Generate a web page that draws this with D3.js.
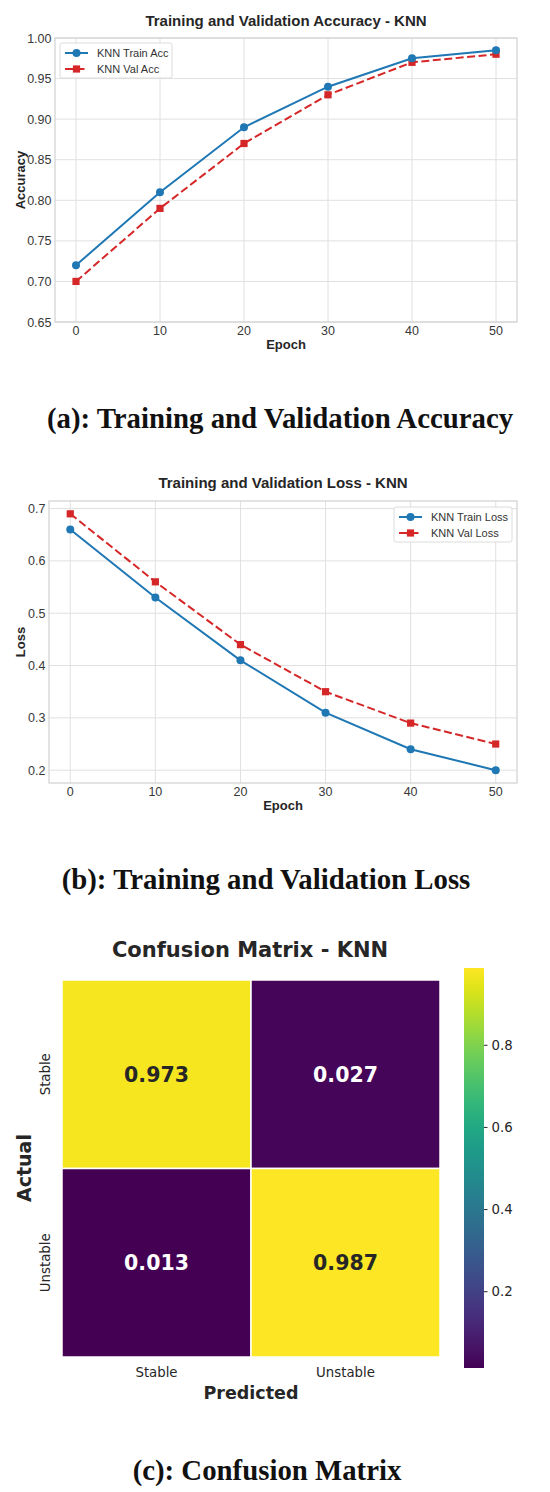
<!DOCTYPE html>
<html>
<head>
<meta charset="utf-8">
<script src="https://cdn.jsdelivr.net/npm/d3@7"></script>
<style>
  body { margin: 0; background: #fff; }
  svg { display: block; }
</style>
</head>
<body>
<svg width="550" height="1492"></svg>
<script>
// values
const epochs = [0, 10, 20, 30, 40, 50];
const accTrain = [0.72, 0.81, 0.89, 0.94, 0.975, 0.985];
const accVal = [0.70, 0.79, 0.87, 0.93, 0.97, 0.98];
const lossTrain = [0.66, 0.53, 0.41, 0.31, 0.24, 0.20];
const lossVal = [0.69, 0.56, 0.44, 0.35, 0.29, 0.25];
const epochTicks = [0, 10, 20, 30, 40, 50];
const accTicks = [0.65, 0.70, 0.75, 0.80, 0.85, 0.90, 0.95, 1.00];
const lossTicks = [0.2, 0.3, 0.4, 0.5, 0.6, 0.7];
const cmClasses = ["Stable", "Unstable"];
const cmValues = [[0.973, 0.027], [0.013, 0.987]];
const cbarTicks = [0.2, 0.4, 0.6, 0.8];

const svg = d3.select("svg");
const blue = "#1f77b4", red = "#d62728";
const sans = "'Liberation Sans', Arial, sans-serif";
const dejavu = "'DejaVu Sans', sans-serif";
const serif = "'Liberation Serif', 'DejaVu Serif', serif";

function lineChart(opt) {
  const g = svg.append("g");
  const {left, right, top, bottom} = opt.box;
  const x = d3.scaleLinear().domain([-2.5, 52.5]).range([left, right]);
  const y = d3.scaleLinear().domain(opt.yDomain).range([bottom, top]);

  // grid
  g.selectAll(".gx").data(epochTicks).enter().append("line")
    .attr("x1", d => x(d)).attr("x2", d => x(d))
    .attr("y1", top).attr("y2", bottom)
    .attr("stroke", "#e0e0e0").attr("stroke-width", 1);
  g.selectAll(".gy").data(opt.yTicks).enter().append("line")
    .attr("x1", left).attr("x2", right)
    .attr("y1", d => y(d)).attr("y2", d => y(d))
    .attr("stroke", "#e0e0e0").attr("stroke-width", 1);
  g.append("rect")
    .attr("x", left).attr("y", top)
    .attr("width", right - left).attr("height", bottom - top)
    .attr("fill", "none").attr("stroke", "#d4d4d4").attr("stroke-width", 1.3);

  // tick labels
  g.selectAll(".tx").data(epochTicks).enter().append("text")
    .attr("x", d => x(d)).attr("y", bottom + 12.5)
    .attr("text-anchor", "middle")
    .style("font-family", sans).style("font-size", "12.5px").attr("fill", "#383838")
    .text(d => d);
  g.selectAll(".ty").data(opt.yTicks).enter().append("text")
    .attr("x", left - 3.5).attr("y", d => y(d) + 4.5)
    .attr("text-anchor", "end")
    .style("font-family", sans).style("font-size", "12.5px").attr("fill", "#383838")
    .text(d => d3.format(opt.yFmt)(d));

  // labels
  g.append("text")
    .attr("x", (left + right) / 2).attr("y", opt.titleY)
    .attr("text-anchor", "middle")
    .style("font-family", sans).style("font-size", "15px").style("font-weight", "bold")
    .attr("fill", "#262626").text(opt.title);
  g.append("text")
    .attr("x", (left + right) / 2).attr("y", bottom + 27)
    .attr("text-anchor", "middle")
    .style("font-family", sans).style("font-size", "13px").style("font-weight", "bold")
    .attr("fill", "#262626").text("Epoch");
  g.append("text")
    .attr("transform", `translate(${opt.yLabelX},${(top + bottom) / 2}) rotate(-90)`)
    .attr("text-anchor", "middle")
    .style("font-family", sans).style("font-size", "13px").style("font-weight", "bold")
    .attr("fill", "#262626").text(opt.yLabel);

  const line = d3.line().x((d, i) => x(epochs[i])).y(d => y(d));

  // val (red, dashed, squares)
  g.append("path").datum(opt.val)
    .attr("fill", "none").attr("stroke", red).attr("stroke-width", 2)
    .attr("stroke-dasharray", "8,3.5").attr("d", line);
  g.selectAll(".sq").data(opt.val).enter().append("rect")
    .attr("x", (d, i) => x(epochs[i]) - 3.6).attr("y", d => y(d) - 3.6)
    .attr("width", 7.2).attr("height", 7.2).attr("fill", red);

  // train (blue, circles)
  g.append("path").datum(opt.train)
    .attr("fill", "none").attr("stroke", blue).attr("stroke-width", 2)
    .attr("d", line);
  g.selectAll(".ci").data(opt.train).enter().append("circle")
    .attr("cx", (d, i) => x(epochs[i])).attr("cy", d => y(d))
    .attr("r", 4).attr("fill", blue);

  // legend
  const L = opt.legend;
  const lg = g.append("g");
  lg.append("rect")
    .attr("x", L.x).attr("y", L.y).attr("width", L.w).attr("height", 35)
    .attr("rx", 2).attr("fill", "#fff").attr("fill-opacity", 0.85)
    .attr("stroke", "#dcdcdc").attr("stroke-width", 1);
  const items = [
    {name: opt.names[0], color: blue, dash: null, marker: "circle"},
    {name: opt.names[1], color: red, dash: "8,3.5", marker: "square"}
  ];
  items.forEach((it, i) => {
    const yy = L.y + 10 + i * 16;
    lg.append("line")
      .attr("x1", L.x + 5).attr("x2", L.x + 28).attr("y1", yy).attr("y2", yy)
      .attr("stroke", it.color).attr("stroke-width", 2)
      .attr("stroke-dasharray", it.dash);
    if (it.marker === "circle") {
      lg.append("circle").attr("cx", L.x + 16.5).attr("cy", yy).attr("r", 4).attr("fill", it.color);
    } else {
      lg.append("rect").attr("x", L.x + 12.9).attr("y", yy - 3.6)
        .attr("width", 7.2).attr("height", 7.2).attr("fill", it.color);
    }
    lg.append("text")
      .attr("x", L.x + 37).attr("y", yy + 4)
      .style("font-family", sans).style("font-size", "11px").attr("fill", "#333")
      .text(it.name);
  });
}

lineChart({
  box: {left: 55, right: 517, top: 38, bottom: 322},
  yDomain: [0.65, 1.00], yTicks: accTicks, yFmt: ".2f",
  title: "Training and Validation Accuracy - KNN", titleY: 26,
  yLabel: "Accuracy", yLabelX: 25,
  train: accTrain, val: accVal,
  names: ["KNN Train Acc", "KNN Val Acc"],
  legend: {x: 60, y: 43, w: 112}
});

lineChart({
  box: {left: 49, right: 517, top: 501, bottom: 783},
  yDomain: [0.1755, 0.7145], yTicks: lossTicks, yFmt: ".1f",
  title: "Training and Validation Loss - KNN", titleY: 488,
  yLabel: "Loss", yLabelX: 25,
  train: lossTrain, val: lossVal,
  names: ["KNN Train Loss", "KNN Val Loss"],
  legend: {x: 394, y: 507, w: 118}
});

// captions
const captions = [
  {text: "(a): Training and Validation Accuracy", y: 428, x: 280},
  {text: "(b): Training and Validation Loss", y: 889, x: 266},
  {text: "(c): Confusion Matrix", y: 1480, x: 267}
];
svg.selectAll(".cap").data(captions).enter().append("text")
  .attr("x", d => d.x).attr("y", d => d.y)
  .attr("text-anchor", "middle")
  .style("font-family", serif).style("font-size", "28.8px").style("font-weight", "bold")
  .attr("fill", "#111").text(d => d.text);

// confusion matrix
const cm = svg.append("g");
const cx = d3.scaleBand().domain(cmClasses).range([62, 440]);
const cy = d3.scaleBand().domain(cmClasses).range([980, 1357]);
const vmin = 0.013, vmax = 0.987;
const color = d3.scaleSequential(d3.interpolateViridis).domain([vmin, vmax]);
const cells = [];
cmValues.forEach((row, i) => row.forEach((v, j) => cells.push({r: cmClasses[i], c: cmClasses[j], v})));

cm.selectAll(".cell").data(cells).enter().append("rect")
  .attr("x", d => cx(d.c)).attr("y", d => cy(d.r))
  .attr("width", cx.bandwidth()).attr("height", cy.bandwidth())
  .attr("fill", d => color(d.v)).attr("stroke", "#fff").attr("stroke-width", 1.5);
cm.selectAll(".ann").data(cells).enter().append("text")
  .attr("x", d => cx(d.c) + cx.bandwidth() / 2)
  .attr("y", d => cy(d.r) + cy.bandwidth() / 2 + 7.5)
  .attr("text-anchor", "middle")
  .style("font-family", dejavu).style("font-size", "20.5px").style("font-weight", "bold")
  .attr("fill", d => d.v > 0.5 ? "#262626" : "#fff")
  .text(d => d3.format(".3f")(d.v));

cm.append("text").attr("x", 250).attr("y", 957).attr("text-anchor", "middle")
  .style("font-family", dejavu).style("font-size", "21px").style("font-weight", "bold")
  .attr("fill", "#262626").text("Confusion Matrix - KNN");

cm.selectAll(".xl").data(cmClasses).enter().append("text")
  .attr("x", d => cx(d) + cx.bandwidth() / 2).attr("y", 1377)
  .attr("text-anchor", "middle")
  .style("font-family", dejavu).style("font-size", "13.3px").attr("fill", "#262626")
  .text(d => d);
cm.selectAll(".yl").data(cmClasses).enter().append("text")
  .attr("transform", d => `translate(${50},${cy(d) + cy.bandwidth() / 2}) rotate(-90)`)
  .attr("text-anchor", "middle")
  .style("font-family", dejavu).style("font-size", "13.3px").attr("fill", "#262626")
  .text(d => d);
cm.append("text").attr("x", 251).attr("y", 1399).attr("text-anchor", "middle")
  .style("font-family", dejavu).style("font-size", "17.5px").style("font-weight", "bold")
  .attr("fill", "#262626").text("Predicted");
cm.append("text")
  .attr("transform", "translate(31,1168) rotate(-90)")
  .attr("text-anchor", "middle")
  .style("font-family", dejavu).style("font-size", "19px").style("font-weight", "bold")
  .attr("fill", "#262626").text("Actual");

// colorbar
const cbY = d3.scaleLinear().domain([vmin, vmax]).range([1368, 968]);
const defs = svg.append("defs");
const grad = defs.append("linearGradient").attr("id", "vir")
  .attr("x1", 0).attr("y1", 1).attr("x2", 0).attr("y2", 0);
d3.range(0, 1.0001, 0.05).forEach(t => {
  grad.append("stop").attr("offset", t).attr("stop-color", d3.interpolateViridis(t));
});
cm.append("rect").attr("x", 464).attr("y", 968).attr("width", 20).attr("height", 400)
  .attr("fill", "url(#vir)");
const cbAxis = cm.append("g").attr("transform", "translate(484,0)")
  .call(d3.axisRight(cbY).tickValues(cbarTicks).tickSize(3.5).tickPadding(4).tickFormat(d3.format(".1f")));
cbAxis.select(".domain").remove();
cbAxis.selectAll("line").attr("stroke", "#262626");
cbAxis.selectAll("text").style("font-family", dejavu).style("font-size", "13.3px").attr("fill", "#262626");
</script>
</body>
</html>
